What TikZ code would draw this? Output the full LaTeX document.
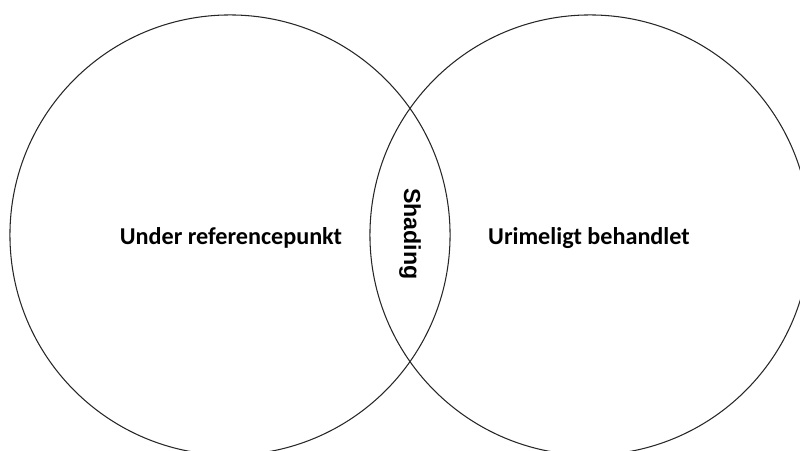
\documentclass[tikz,border=0pt]{standalone}
\usepackage{fontspec}
\setmainfont{Carlito}
\newfontfamily\arialfont{Liberation Sans}
\usepackage{tikz}
\usetikzlibrary{positioning}

\tikzset{
  Set/.style={circle,draw=black!85,line width=0.75pt,minimum size=11cm,inner sep=0pt},
  Label/.style={font=\bfseries\fontsize{17.2}{20}\selectfont,text=black},
  Overlap/.style={font=\arialfont\bfseries\fontsize{16.5}{20}\selectfont,text=black}
}

\begin{document}
\begin{tikzpicture}[x=0.025cm,y=0.025cm]
  \clip (0,0) rectangle (800,450);
  \node[Set] (U) at (230,215) {};
  \node[Set] (R) at (590,215) {};
  \node[Label] (UL) at (231,212) {Under referencepunkt};
  \node[Label] (RL) at (589,212) {Urimeligt behandlet};
  \node[Overlap,rotate=-90] (S) at (410,216) {Shading};
\end{tikzpicture}
\end{document}
